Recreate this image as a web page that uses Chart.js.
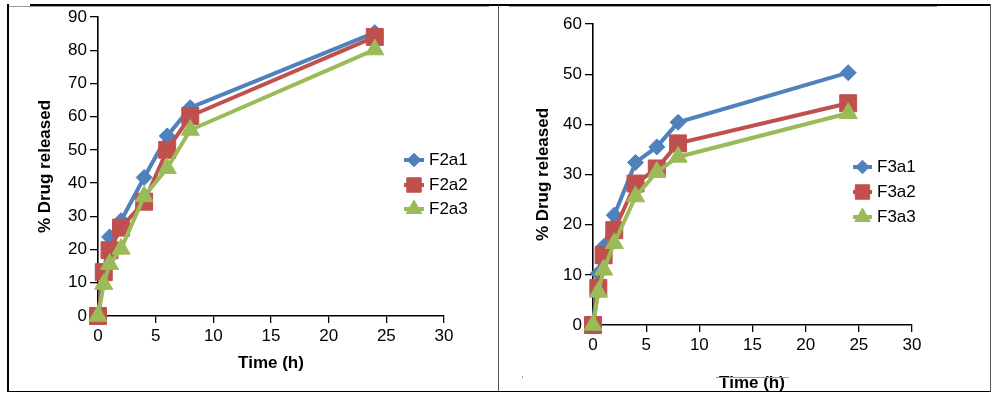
<!DOCTYPE html>
<html><head><meta charset="utf-8">
<script src="https://cdn.jsdelivr.net/npm/chart.js@4.4.1/dist/chart.umd.min.js"></script>
<style>
html,body{margin:0;padding:0;background:#fff;width:999px;height:398px;overflow:hidden;position:relative}
.pane{position:absolute;top:0;height:398px}
.ln{position:absolute}
</style></head><body>
<div class="pane" style="left:0;width:499px"><canvas id="c1" width="499" height="398"></canvas></div>
<div class="pane" style="left:499px;width:500px"><canvas id="c2" width="500" height="398"></canvas></div>
<div class="ln" style="left:30px;top:4px;width:961px;height:1.5px;background:#000"></div>
<div class="ln" style="left:8px;top:5.5px;width:481px;height:1px;background:#9a9a9a"></div>
<div class="ln" style="left:509px;top:5.5px;width:428px;height:1px;background:#9a9a9a"></div>
<div class="ln" style="left:7px;top:4px;width:1.5px;height:388px;background:#000"></div>
<div class="ln" style="left:7px;top:390.5px;width:984px;height:1.5px;background:#000"></div>
<div class="ln" style="left:989.5px;top:4px;width:1.5px;height:388px;background:#555"></div>
<div class="ln" style="left:497.5px;top:5px;width:1.5px;height:386px;background:#555"></div>
<div class="ln" style="left:716px;top:377px;width:73px;height:1px;background:#9a9a9a"></div>
<div class="ln" style="left:522px;top:376px;width:1px;height:2px;background:#999"></div>
<script>
// ---- data ----
const times = [0, 0.5, 1, 2, 4, 6, 8, 24];
const xTickValues = [0, 5, 10, 15, 20, 25, 30];
const yTicksLeft = [0, 10, 20, 30, 40, 50, 60, 70, 80, 90];
const yTicksRight = [0, 10, 20, 30, 40, 50, 60];
const leftLabels = ['F2a1', 'F2a2', 'F2a3'];
const F2a1 = [0, 13, 23.8, 28.7, 41.7, 54.2, 62.7, 85.3];
const F2a2 = [0, 13.2, 19.8, 26.6, 34.4, 50, 60.2, 84];
const F2a3 = [0, 9.6, 15.6, 20.2, 36, 44.5, 56, 80.2];
const rightLabels = ['F3a1', 'F3a2', 'F3a3'];
const F3a1 = [0, 10.3, 15.6, 21.9, 32.4, 35.5, 40.4, 50.3];
const F3a2 = [0, 7.4, 13.9, 18.9, 28.2, 31.2, 36.2, 44.2];
const F3a3 = [0, 6.6, 11, 16.3, 25.6, 30.5, 33.5, 42.2];
const xTitle = 'Time (h)';
const yTitle = '% Drug released';

// ---- styles ----
const colors = ['#4F81BD', '#C0504D', '#9BBB59'];
const styles = [
  {pointStyle: 'rectRot', radius: 8},
  {pointStyle: 'rect', radius: 12},
  {pointStyle: 'triangle', radius: 10.5}
];
Chart.defaults.font.family = "'Liberation Sans', Arial, sans-serif";
Chart.defaults.color = '#000';

function buildDatasets(labels, series) {
  return series.map((vals, i) => ({
    label: labels[i],
    data: times.map((t, k) => ({x: t, y: vals[k]})),
    borderColor: colors[i],
    backgroundColor: colors[i],
    pointBackgroundColor: colors[i],
    pointBorderColor: colors[i],
    borderWidth: 4,
    tension: 0,
    pointStyle: styles[i].pointStyle,
    pointRadius: styles[i].radius,
    pointHoverRadius: styles[i].radius,
    pointBorderWidth: 1,
    clip: false,
    order: 2 - i
  }));
}

function overlayPlugin(lay) {
  return {
    id: 'overlay',
    afterDraw(chart) {
      const ctx = chart.ctx;
      ctx.save();
      // axis titles
      ctx.fillStyle = '#000';
      ctx.font = "bold 17px 'Liberation Sans', Arial, sans-serif";
      ctx.textAlign = 'center';
      ctx.textBaseline = 'middle';
      ctx.fillText(xTitle, lay.xTitle[0], lay.xTitle[1]);
      ctx.save();
      ctx.translate(lay.yTitle[0], lay.yTitle[1]);
      ctx.rotate(-Math.PI / 2);
      ctx.fillText(yTitle, 0, 0);
      ctx.restore();
      // legend
      chart.data.datasets.forEach((ds, i) => {
        const y = lay.legendY[i];
        ctx.strokeStyle = ds.borderColor;
        ctx.lineWidth = 4;
        ctx.beginPath();
        ctx.moveTo(lay.legendX[0], y);
        ctx.lineTo(lay.legendX[1], y);
        ctx.stroke();
        ctx.fillStyle = ds.backgroundColor;
        ctx.lineWidth = 1;
        Chart.helpers.drawPoint(ctx, {pointStyle: ds.pointStyle, rotation: 0, radius: ds.pointRadius * 0.85, borderWidth: 1},
          (lay.legendX[0] + lay.legendX[1]) / 2, y);
        ctx.fillStyle = '#000';
        ctx.font = "17px 'Liberation Sans', Arial, sans-serif";
        ctx.textAlign = 'left';
        ctx.fillText(ds.label, lay.legendText, y);
      });
      ctx.restore();
    }
  };
}

function makeChart(id, labels, series, yMax, yTicks, lay) {
  new Chart(document.getElementById(id), {
    type: 'line',
    data: {datasets: buildDatasets(labels, series)},
    options: {
      responsive: false,
      animation: false,
      events: [],
      layout: {padding: lay.padding},
      plugins: {legend: {display: false}, tooltip: {enabled: false}},
      scales: {
        x: {
          type: 'linear', min: 0, max: 30,
          afterBuildTicks: s => { s.ticks = xTickValues.map(v => ({value: v})); },
          afterFit: s => { s.height = 50; },
          grid: {drawOnChartArea: false, drawTicks: true, tickLength: 7, color: '#000', lineWidth: 1.3},
          border: {display: true, color: '#000', width: 1.6},
          ticks: {font: {size: 17}, padding: 3, maxRotation: 0, color: '#000'}
        },
        y: {
          type: 'linear', min: 0, max: yMax,
          afterBuildTicks: s => { s.ticks = yTicks.map(v => ({value: v})); },
          afterFit: s => { s.width = 60; },
          grid: {drawOnChartArea: false, drawTicks: true, tickLength: 8, color: '#000', lineWidth: 1.3},
          border: {display: true, color: '#000', width: 1.6},
          ticks: {font: {size: 17}, padding: 3, color: '#000'}
        }
      }
    },
    plugins: [overlayPlugin(lay)]
  });
}

makeChart('c1', leftLabels, [F2a1, F2a2, F2a3], 90, yTicksLeft, {
  padding: {left: 38, top: 17, right: 55, bottom: 32},
  xTitle: [271, 363], yTitle: [45.5, 166.5],
  legendY: [160, 185, 209], legendX: [404, 424], legendText: 429
});
makeChart('c2', rightLabels, [F3a1, F3a2, F3a3], 60, yTicksRight, {
  padding: {left: 34, top: 24, right: 87, bottom: 23},
  xTitle: [253, 383], yTitle: [44, 174.5],
  legendY: [167, 192, 217], legendX: [354, 373], legendText: 378
});
</script>
</body></html>
